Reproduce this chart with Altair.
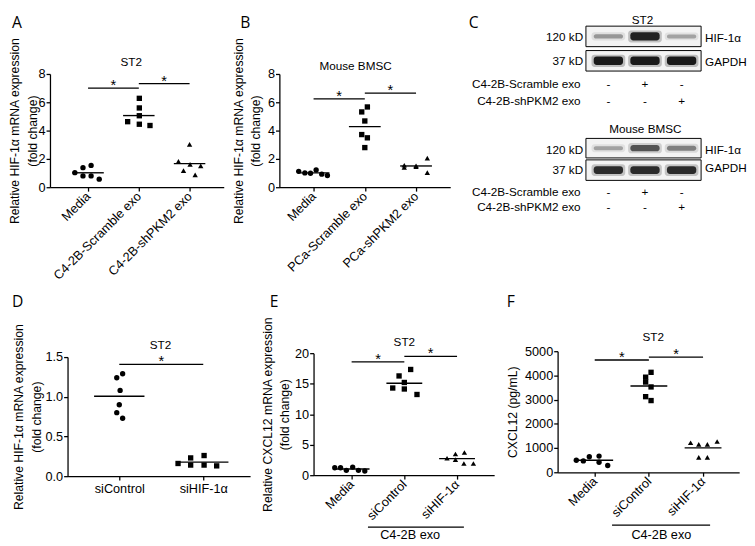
import json
import altair as alt
import pandas as pd

FONT = "Liberation Sans"
LETTER_FONT = "Open Sans"

# ---------------- data ----------------
# Panel A (ST2, HIF-1a mRNA)
A_cats = ["Media", "C4-2B-Scramble exo", "C4-2B-shPKM2 exo"]
A_vals = [
    [1.03, 1.38, 1.54, 0.80, 0.80, 0.57],
    [6.28, 5.60, 5.05, 4.63, 4.45, 4.36],
    [3.03, 1.83, 1.61, 1.51, 1.17, 0.87],
]
A_offs = [
    [-0.26, -0.10, 0.06, -0.10, 0.06, 0.22],
    [0.01, 0.01, 0.01, -0.22, 0.01, 0.22],
    [0.00, -0.22, 0.01, 0.22, -0.12, 0.11],
]
A_sig = [(0, 1, 7.0), (1, 2, 7.32)]

# Panel B (Mouse BMSC, HIF-1a mRNA)
B_cats = ["Media", "PCa-Scramble exo", "PCa-shPKM2 exo"]
B_vals = [
    [1.12, 1.01, 0.99, 1.22, 0.92, 0.83],
    [5.67, 5.32, 4.68, 3.72, 3.49, 2.80],
    [1.55, 1.52, 2.06, 1.40, 1.45, 1.03],
]
B_offs = [
    [-0.29, -0.17, -0.06, 0.05, 0.16, 0.27],
    [0.05, -0.06, 0.00, -0.06, 0.05, 0.00],
    [-0.23, 0.00, 0.22, -0.23, 0.00, 0.22],
]
B_sig = [(0, 1, 6.24), (1, 2, 6.65)]

# Panel D (ST2, HIF-1a knock-down)
D_cats = ["siControl", "siHIF-1α"]
D_vals = [
    [1.29, 1.24, 1.08, 0.90, 0.80, 0.73],
    [0.16, 0.23, 0.14, 0.26, 0.14, 0.13],
]
D_offs = [
    [0.04, -0.03, 0.01, 0.00, -0.03, 0.04],
    [-0.30, -0.15, -0.15, 0.01, 0.01, 0.16],
]
D_sig = [(0, 1, 1.407)]

# Panel E (ST2, CXCL12 mRNA)
E_cats = ["Media", "siControl", "siHIF-1α"]
E_vals = [
    [1.23, 1.23, 0.80, 1.33, 0.80, 0.69],
    [16.27, 17.33, 15.20, 14.29, 14.13, 13.23],
    [2.77, 3.47, 3.73, 2.56, 1.92, 1.92],
]
E_offs = [
    [-0.32, -0.21, -0.10, 0.02, 0.13, 0.25],
    [-0.10, 0.12, 0.00, -0.22, 0.00, 0.24],
    [-0.19, -0.03, 0.14, -0.03, 0.13, 0.31],
]
E_sig = [(0, 1, 18.56), (1, 2, 19.47)]

# Panel F (ST2, CXCL12 protein)
F_cats = ["Media", "siControl", "siHIF-1α"]
F_vals = [
    [496, 469, 643, 670, 416, 281],
    [4129, 3928, 3727, 3525, 3123, 2962],
    [1220, 1153, 1153, 1273, 617, 617],
]
F_offs = [
    [-0.34, -0.21, -0.10, 0.08, 0.08, 0.24],
    [0.04, -0.06, -0.06, 0.04, -0.06, 0.04],
    [-0.23, -0.08, 0.08, 0.26, -0.08, 0.08],
]
F_sig = [(0, 1, 4638), (1, 2, 4759)]

# Panel C (western blots)
C_lanes = [0, 1, 2]
C_scramble = ["-", "+", "-"]
C_shpkm2 = ["-", "-", "+"]
C_st2_hif = [0.35, 0.90, 0.30]
C_st2_gapdh = [0.95, 0.95, 0.95]
C_bmsc_hif = [0.30, 0.65, 0.45]
C_bmsc_gapdh = [0.85, 0.85, 0.85]

SHAPES3 = ["circle", "square", "triangle-up"]


def make_points(cats, vals, offs):
    rows = []
    for i, (vs, os_) in enumerate(zip(vals, offs)):
        for v, o in zip(vs, os_):
            rows.append({"grp": cats[i], "idx": i, "off": o, "val": v})
    return pd.DataFrame(rows)


def scatter_panel(cats, vals, offs, shapes, sig, title, title_xy, letter, geo,
                  ytitle, yticks, yfmt, label_angle, hw, bracket=None):
    df = make_points(cats, vals, offs)
    xs_kw = dict(domain=geo["xdom"], nice=False, zero=False)
    if "xrange" in geo:
        xs_kw["range"] = geo["xrange"]
    xscale = alt.Scale(**xs_kw)
    yscale = alt.Scale(domain=geo["ydom"], range=geo["yrange"], nice=False, zero=False)

    label_expr = json.dumps(cats, ensure_ascii=False) + "[datum.value]"
    if label_angle == 0:
        lab = dict(labelAngle=0, labelAlign="center", labelBaseline="top")
    else:
        lab = dict(labelAngle=label_angle, labelAlign="right", labelBaseline="middle")
    xaxis = alt.Axis(values=list(range(len(cats))), tickCount=len(cats), labelExpr=label_expr,
                     title=None, tickSize=4, labelPadding=3, labelOverlap=False,
                     labelFlush=False, labelBound=False, labelFontSize=13, **lab)
    yax_kw = dict(values=yticks, tickCount=len(yticks), format=yfmt, title=ytitle, tickSize=4,
                  labelPadding=1, titlePadding=geo["tpad"], titleLineHeight=18,
                  labelFlush=False, labelOverlap=False, labelBound=False, labelFontSize=13)
    if "yoff" in geo:
        yax_kw["offset"] = geo["yoff"]
    yaxis = alt.Axis(**yax_kw)

    pts = alt.Chart(df).transform_calculate(xpos="datum.idx + datum.off").mark_point(
        filled=True, opacity=1, size=30, color="black", strokeWidth=0
    ).encode(
        x=alt.X("xpos:Q", scale=xscale, axis=xaxis),
        y=alt.Y("val:Q", scale=yscale, axis=yaxis),
        shape=alt.Shape("grp:N", scale=alt.Scale(domain=cats, range=shapes), legend=None),
    )

    mean = alt.Chart(df).transform_aggregate(
        m="mean(val)", groupby=["idx"]
    ).transform_calculate(
        a=f"datum.idx - {hw}", b=f"datum.idx + {hw}"
    ).mark_rule(color="black", strokeWidth=1.4).encode(
        x=alt.X("a:Q", scale=xscale), x2="b:Q",
        y=alt.Y("m:Q", scale=yscale),
    )

    sdf = pd.DataFrame({"a": [s[0] for s in sig], "b": [s[1] for s in sig],
                        "y": [s[2] for s in sig]})
    srule = alt.Chart(sdf).mark_rule(color="black", strokeWidth=1.3).encode(
        x=alt.X("a:Q", scale=xscale), x2="b:Q",
        y=alt.Y("y:Q", scale=yscale),
    )
    stars = alt.Chart(sdf).transform_calculate(mid="(datum.a + datum.b) / 2").mark_text(
        text="*", fontSize=15, font=FONT, baseline="alphabetic", align="center", dy=2, color="black"
    ).encode(
        x=alt.X("mid:Q", scale=xscale),
        y=alt.Y("y:Q", scale=yscale),
    )

    tdf = pd.DataFrame({"t": [title], "x": [title_xy[0]], "y": [title_xy[1]]})
    ttl = alt.Chart(tdf).mark_text(fontSize=12, font=FONT, align="center",
                                   baseline="alphabetic", color="black").encode(
        text="t:N",
        x=alt.X("x:Q", scale=xscale),
        y=alt.Y("y:Q", scale=yscale),
    )

    ldf = pd.DataFrame({"t": [letter]})
    let = alt.Chart(ldf).mark_text(fontSize=16, font=LETTER_FONT, align="left",
                                   baseline="alphabetic", color="black").encode(
        text="t:N", x=alt.value(geo["letter"][0]), y=alt.value(geo["letter"][1]),
    )

    layers = [pts, mean, srule, stars, ttl, let]
    if bracket is not None:
        bdf = pd.DataFrame({"a": [bracket[0]], "b": [bracket[1]], "y": [bracket[2]],
                            "tx": [bracket[3]], "ty": [bracket[4]], "t": [bracket[5]]})
        brule = alt.Chart(bdf).mark_rule(color="black", strokeWidth=1.2).encode(
            x=alt.X("a:Q", scale=xscale), x2="b:Q",
            y=alt.Y("y:Q", scale=yscale),
        )
        btxt = alt.Chart(bdf).mark_text(fontSize=13, font=FONT, align="center",
                                        baseline="alphabetic", color="black").encode(
            text="t:N",
            x=alt.X("tx:Q", scale=xscale),
            y=alt.Y("ty:Q", scale=yscale),
        )
        layers += [brule, btxt]
    return alt.layer(*layers).properties(width=geo["w"], height=geo["h"])


HIF_TITLE = ["Relative HIF-1α mRNA expression", "(fold change)"]

A = scatter_panel(A_cats, A_vals, A_offs, SHAPES3, A_sig, "ST2", (0.85, 8.55), "A",
                  dict(w=178, h=177, xdom=[-0.75, 2.673], ydom=[0, 8], yrange=[177, 61],
                       tpad=-1, letter=(-39, 14)),
                  HIF_TITLE, [0, 2, 4, 6, 8], "d", -45, 0.31)
B = scatter_panel(B_cats, B_vals, B_offs, SHAPES3, B_sig, "Mouse BMSC", (0.82, 8.28), "B",
                  dict(w=175, h=177, xdom=[-0.667, 2.667], ydom=[0, 8], yrange=[177, 61],
                       tpad=5, letter=(-40, 14)),
                  HIF_TITLE, [0, 2, 4, 6, 8], "d", -45, 0.31)
D = scatter_panel(D_cats, D_vals, D_offs, ["circle", "square"], D_sig, "ST2", (0.49, 1.6), "D",
                  dict(w=205, h=190, xdom=[-0.616, 1.558], xrange=[18, 205], ydom=[0, 1.5],
                       yrange=[190, 68], yoff=-18, tpad=2, letter=(-39, 17)),
                  HIF_TITLE, [0, 0.5, 1.0, 1.5], ".1f", 0, 0.30)
E = scatter_panel(E_cats, E_vals, E_offs, SHAPES3, E_sig, "ST2", (1.0, 21.1), "E",
                  dict(w=185, h=189, xdom=[-0.722, 2.704], ydom=[0, 20], yrange=[189, 64],
                       tpad=3, letter=(-45, 17)),
                  ["Relative CXCL12 mRNA expression", "(fold change)"], [0, 5, 10, 15, 20], "d",
                  -45, 0.34, bracket=(0.31, 2.13, -8.5, 1.11, -10.4, "C4-2B exo"))
F = scatter_panel(F_cats, F_vals, F_offs, SHAPES3, F_sig, "ST2", (1.08, 5403), "F",
                  dict(w=186, h=186, xdom=[-0.685, 2.667], ydom=[0, 5000], yrange=[186, 62],
                       tpad=5, letter=(-52, 17)),
                  "CXCL12 (pg/mL)", [0, 1000, 2000, 3000, 4000, 5000], "d",
                  -45, 0.34, bracket=(0.32, 2.13, -2180, 1.23, -2742, "C4-2B exo"))

# ---------------- Panel C (blots) ----------------
cx = alt.Scale(domain=[0, 2], range=[105, 180], nice=False, zero=False)
cy = alt.Scale(domain=[0, 200], range=[0, 200], nice=False, zero=False)
LANE_L, LANE_R = -0.613, 2.533

blocks = [
    dict(title="ST2", tx=0.93, ty=10,
         frames=[(12, 33), (37, 58)], kd_y=[27, 52], prot_y=[28, 53],
         row_y=[75, 93], hif=C_st2_hif, gapdh=C_st2_gapdh),
    dict(title="Mouse BMSC", tx=1.01, ty=121,
         frames=[(127, 147), (149, 170)], kd_y=[143, 163], prot_y=[143, 161],
         row_y=[186, 201], hif=C_bmsc_hif, gapdh=C_bmsc_gapdh),
]

frame_rows, band_rows, text_rows = [], [], []
for b in blocks:
    text_rows.append({"t": b["title"], "x": b["tx"], "y": b["ty"], "al": "center"})
    for (y1, y2), kd, py, prot, inten in zip(b["frames"], b["kd_y"], b["prot_y"],
                                             ["HIF-1α", "GAPDH"], [b["hif"], b["gapdh"]]):
        frame_rows.append({"x1": LANE_L, "x2": LANE_R, "y1": y1, "y2": y2})
        text_rows.append({"t": "120 kD" if prot == "HIF-1α" else "37 kD", "x": -0.69, "y": kd, "al": "right"})
        text_rows.append({"t": prot, "x": 2.64, "y": py, "al": "left"})
        yc = (y1 + y2) / 2
        for lane, it in zip(C_lanes, inten):
            t = 2 + 7 * it
            band_rows.append({"x1": lane - 0.46, "x2": lane + 0.46, "y1": yc - t / 2 - 2,
                              "y2": yc + t / 2 + 2, "op": 0.25 * it})
            band_rows.append({"x1": lane - 0.40, "x2": lane + 0.40, "y1": yc - t / 2,
                              "y2": yc + t / 2, "op": it})
    for lbl, ry, signs in zip(["C4-2B-Scramble exo", "C4-2B-shPKM2 exo"], b["row_y"],
                              [C_scramble, C_shpkm2]):
        text_rows.append({"t": lbl, "x": -0.76, "y": ry, "al": "right"})
        for lane, s in zip(C_lanes, signs):
            text_rows.append({"t": s, "x": lane, "y": ry, "al": "center"})

fdf = pd.DataFrame(frame_rows)
bdf_ = pd.DataFrame(band_rows)
tdf_ = pd.DataFrame(text_rows)

frames = alt.Chart(fdf).mark_rect(fill="#f3f3f3", stroke="black", strokeWidth=1).encode(
    x=alt.X("x1:Q", scale=cx, axis=None), x2="x2:Q",
    y=alt.Y("y1:Q", scale=cy, axis=None), y2="y2:Q",
)
bands = alt.Chart(bdf_).mark_rect(color="#111111", cornerRadius=3).encode(
    x=alt.X("x1:Q", scale=cx, axis=None), x2="x2:Q",
    y=alt.Y("y1:Q", scale=cy, axis=None), y2="y2:Q",
    opacity=alt.Opacity("op:Q", scale=None),
)
ctexts = []
for al in ["left", "center", "right"]:
    ctexts.append(
        alt.Chart(tdf_).transform_filter(f"datum.al == '{al}'").mark_text(
            fontSize=12, font=FONT, align=al, baseline="alphabetic", color="black"
        ).encode(text="t:N", x=alt.X("x:Q", scale=cx, axis=None),
                 y=alt.Y("y:Q", scale=cy, axis=None))
    )
cletter = alt.Chart(pd.DataFrame({"t": ["C"]})).mark_text(
    fontSize=16, font=LETTER_FONT, align="left", baseline="alphabetic", color="black"
).encode(text="t:N", x=alt.value(-38), y=alt.value(14))

C = alt.layer(frames, bands, *ctexts, cletter).properties(width=232, height=177)

row1 = alt.hconcat(A, B, C, spacing=57, bounds="flush").resolve_scale(shape="independent")
row2 = alt.hconcat(D, E, F, spacing=65, bounds="flush").resolve_scale(shape="independent")

chart = alt.vconcat(row1, row2, spacing=8).resolve_scale(shape="independent").properties(
    padding=0
).configure_view(stroke=None).configure_axis(
    domainColor="black", tickColor="black", labelColor="black", titleColor="black",
    labelFont=FONT, titleFont=FONT, grid=False, domainWidth=1.3, tickWidth=1.3,
    titleFontSize=12.5, titleFontWeight="normal", labelOverlap=False, labelBound=False,
    labelFlush=False,
).configure_text(font=FONT)

chart.save("out.html", embed_options={"renderer": "svg", "actions": False})
